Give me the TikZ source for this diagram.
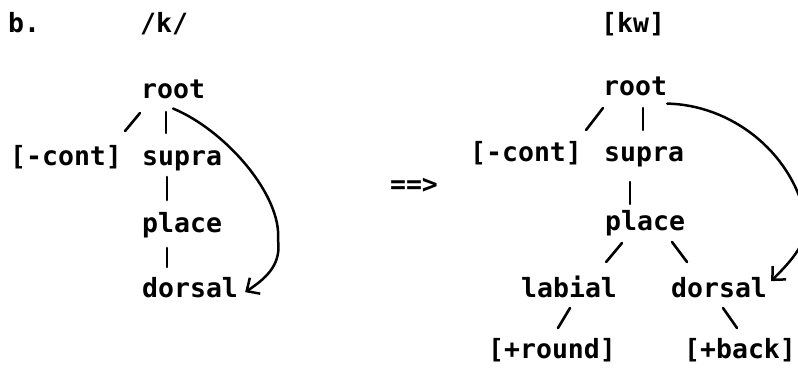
\documentclass[tikz,border=0pt]{standalone}
\usepackage{fontspec}
\setmonofont{DejaVu Sans Mono}
\usepackage{tikz}
\usetikzlibrary{arrows.meta,positioning}
\newcommand\tw{\ttfamily\bfseries\fontsize{26.5}{32}\selectfont}
\tikzset{
  feat/.style={inner sep=0pt,anchor=base west,font=\tw},
  branch/.style={line width=2.6pt,line cap=round},
  spread/.style={-{Straight Barb[length=10pt,width=19pt]},line width=2.5pt,line cap=round},
}

\begin{document}
\begin{tikzpicture}[x=1pt,y=-1pt]
  \useasboundingbox (0,0) rectangle (798,367);
  \clip (0,0) rectangle (798,367);

  % ── Headings ──
  \node[feat] (lbl) at (8,32) {b.};
  \node[feat] (uk) at (140,32) {/k/};
  \node[feat] (skw) at (601,32) {[kw]};
  \node[feat,anchor=center] (yields) at (414,186) {==>};

  % ── Left tree ──
  \node[feat] (rootL) at (141,98) {root};
  \node[feat] (contL) at (10,165) {[-cont]};
  \node[feat] (supraL) at (142,165) {supra};
  \node[feat] (placeL) at (142,232) {place};
  \node[feat] (dorsL) at (142,297) {dorsal};

  % ── Right tree ──
  \node[feat] (rootR) at (603,95) {root};
  \node[feat] (contR) at (470,161) {[-cont]};
  \node[feat] (supraR) at (604,161) {supra};
  \node[feat] (placeR) at (605,230) {place};
  \node[feat] (labR) at (521,297) {labial};
  \node[feat] (dorsR) at (671,297) {dorsal};
  \node[feat] (roundR) at (488,358) {[+round]};
  \node[feat] (backR) at (684,358) {[+back]};

  % ── Branches ──
  \draw[branch] ([shift={(-1,15)}]rootL.base west) -- ([shift={(3,-34)}]contL.base east);
  \draw[branch] ([shift={(25,14)}]rootL.base west) -- ([shift={(24,-32)}]supraL.base west);
  \draw[branch] ([shift={(25,12)}]supraL.base west) -- ([shift={(25,-32)}]placeL.base west);
  \draw[branch] ([shift={(25,16)}]placeL.base west) -- ([shift={(25,-30)}]dorsL.base west);

  \draw[branch] ([shift={(0,13)}]rootR.base west) -- ([shift={(4,-31)}]contR.base east);
  \draw[branch] ([shift={(40,13)}]rootR.base west) -- ([shift={(39,-31)}]supraR.base west);
  \draw[branch] ([shift={(26,21)}]supraR.base west) -- ([shift={(25,-26)}]placeR.base west);
  \draw[branch] ([shift={(17,13)}]placeR.base west) -- ([shift={(-11,-35)}]labR.base east);
  \draw[branch] ([shift={(67,12)}]placeR.base west) -- ([shift={(16,-35)}]dorsR.base west);
  \draw[branch] ([shift={(49,11)}]labR.base west) -- ([shift={(70,-30)}]roundR.base west);
  \draw[branch] ([shift={(52,11)}]dorsR.base west) -- ([shift={(53,-30)}]backR.base west);

  % ── Spreading arrows ──
  \draw[spread] ([yshift=-10pt]rootL.south) .. controls (225,130) and (282,195) .. (278,240)
    .. controls (281,262) and (270,276) .. ([xshift=7pt,yshift=-5pt]dorsL.east);
  \draw[spread] ([yshift=-8pt]rootR.south east) .. controls (730,105) and (790,150) .. (805,215)
    .. controls (812,240) and (790,262) .. ([xshift=4pt,yshift=6pt]dorsR.east);
\end{tikzpicture}
\end{document}
